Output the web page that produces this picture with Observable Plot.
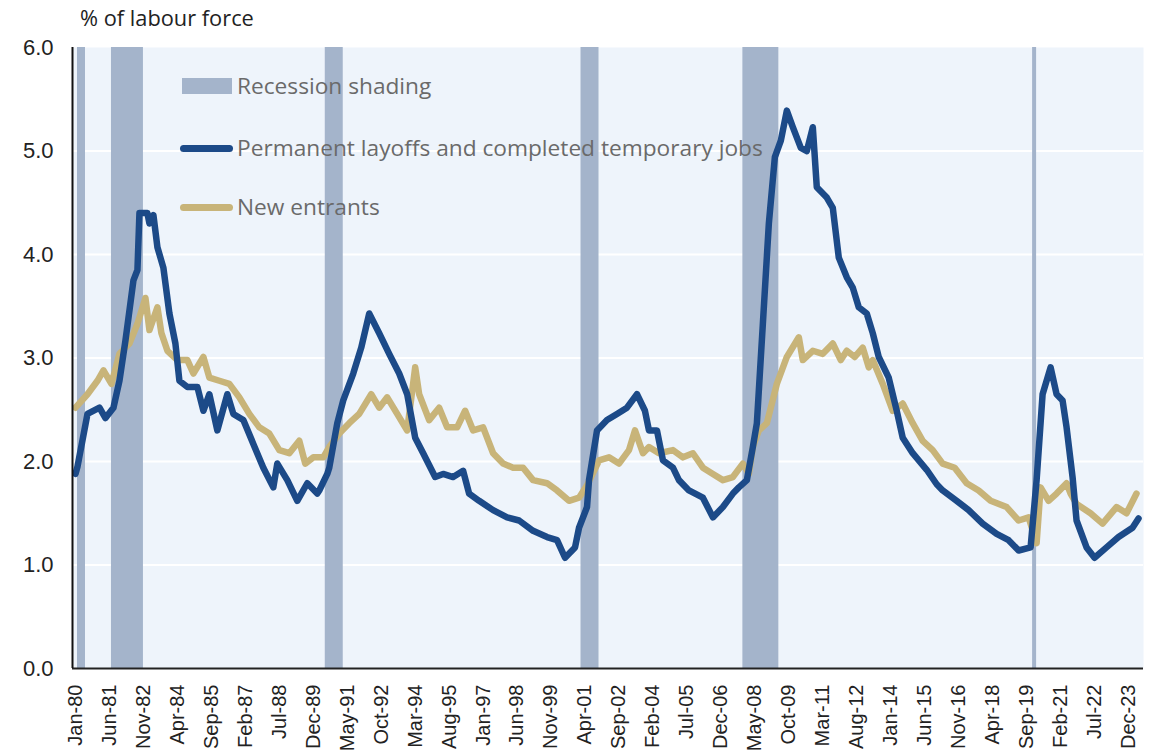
<!DOCTYPE html>
<html>
<head>
<meta charset="utf-8">
<script src="https://cdn.jsdelivr.net/npm/d3@7"></script>
<script src="https://cdn.jsdelivr.net/npm/@observablehq/plot@0.6"></script>
<style>
  html, body { margin: 0; padding: 0; background: #ffffff; }
  #wrap { position: relative; width: 1153px; height: 754px; font-family: "Open Sans", "Noto Sans", sans-serif; }
  #chart svg { display: block; }
  .title { position: absolute; left: 80px; top: 3px; font-size: 21.8px; line-height: 30px; color: #222; }
  .leg { position: absolute; left: 180px; display: flex; align-items: center; color: #6a6a6a; font-size: 22.7px; line-height: 30px; white-space: nowrap; }
  .sw { display: inline-block; margin-right: 4px; }
</style>
</head>
<body>
<div id="wrap">
  <div id="chart"></div>
  <div class="title">% of labour force</div>
  <div class="leg" style="top:71px;"><span class="sw" style="width:50px;height:16px;background:#a4b4cb;margin-left:2px;margin-right:5px;"></span>Recession shading</div>
  <div class="leg" style="top:133px;"><span class="sw" style="width:53px;height:7px;border-radius:4px;background:#1c4a88;"></span>Permanent layoffs and completed temporary jobs</div>
  <div class="leg" style="top:192px;"><span class="sw" style="width:53px;height:7px;border-radius:4px;background:#c8b479;"></span>New entrants</div>
</div>
<script>
// ---------- DATA ----------
const tickLabels = ["Jan-80","Jun-81","Nov-82","Apr-84","Sep-85","Feb-87","Jul-88","Dec-89","May-91","Oct-92","Mar-94","Aug-95","Jan-97","Jun-98","Nov-99","Apr-01","Sep-02","Feb-04","Jul-05","Dec-06","May-08","Oct-09","Mar-11","Aug-12","Jan-14","Jun-15","Nov-16","Apr-18","Sep-19","Feb-21","Jul-22","Dec-23"];

const recessionStart = ["1980-02","1981-07","1990-06","2001-02","2007-11","2019-12"];
const recessionEnd   = ["1980-06","1982-11","1991-03","2001-11","2009-05","2020-02"];

const permDates = ["1980-01","1980-02","1980-07","1981-01","1981-04","1981-08","1981-11","1982-02","1982-06","1982-08","1982-09","1983-01","1983-02","1983-04","1983-06","1983-09","1983-12","1984-03","1984-05","1984-09","1985-02","1985-05","1985-08","1985-12","1986-05","1986-08","1987-01","1987-06","1987-11","1988-04","1988-06","1988-11","1989-04","1989-09","1990-02","1990-03","1990-07","1990-08","1990-12","1991-03","1991-08","1991-12","1992-04","1992-09","1993-02","1993-07","1993-11","1994-03","1994-07","1995-01","1995-05","1995-10","1996-03","1996-06","1996-11","1997-06","1998-01","1998-07","1999-02","1999-09","2000-02","2000-06","2000-11","2001-01","2001-05","2001-06","2001-10","2002-03","2002-08","2003-01","2003-06","2003-10","2003-12","2004-04","2004-07","2004-12","2005-03","2005-08","2006-03","2006-08","2007-01","2007-06","2007-09","2008-01","2008-04","2008-06","2008-09","2008-12","2009-03","2009-06","2009-09","2009-12","2010-04","2010-07","2010-10","2010-12","2011-05","2011-08","2011-11","2012-03","2012-06","2012-09","2013-01","2013-04","2013-07","2013-12","2014-04","2014-07","2014-12","2015-07","2015-12","2016-03","2016-10","2017-04","2017-11","2018-06","2018-12","2019-05","2019-11","2020-02","2020-05","2020-09","2020-12","2021-03","2021-05","2021-08","2021-10","2022-03","2022-07","2023-01","2023-07","2024-02","2024-05"];
const permValues = [1.88,1.95,2.46,2.52,2.42,2.52,2.78,3.17,3.75,3.85,4.40,4.40,4.30,4.38,4.07,3.87,3.43,3.14,2.78,2.72,2.72,2.49,2.65,2.30,2.65,2.46,2.40,2.17,1.94,1.75,1.98,1.82,1.62,1.79,1.69,1.72,1.88,1.94,2.37,2.59,2.85,3.10,3.43,3.24,3.04,2.85,2.65,2.23,2.08,1.85,1.88,1.85,1.91,1.69,1.62,1.53,1.46,1.43,1.33,1.27,1.24,1.07,1.17,1.36,1.56,1.82,2.30,2.40,2.46,2.52,2.65,2.49,2.30,2.30,2.01,1.94,1.82,1.72,1.65,1.46,1.56,1.69,1.75,1.82,2.14,2.37,3.33,4.30,4.94,5.10,5.39,5.23,5.03,5.00,5.23,4.65,4.55,4.45,3.97,3.78,3.68,3.49,3.43,3.24,3.01,2.81,2.49,2.23,2.08,1.92,1.78,1.72,1.62,1.53,1.40,1.30,1.24,1.14,1.17,1.82,2.65,2.91,2.65,2.59,2.33,1.85,1.43,1.17,1.07,1.17,1.27,1.36,1.45];

const entrantDates = ["1980-01","1980-07","1980-12","1981-03","1981-07","1981-11","1982-04","1982-08","1982-12","1983-02","1983-06","1983-08","1983-11","1984-04","1984-09","1984-12","1985-05","1985-08","1986-01","1986-06","1986-11","1987-04","1987-09","1988-02","1988-07","1988-12","1989-05","1989-08","1989-12","1990-05","1990-08","1991-01","1991-06","1991-11","1992-05","1992-09","1993-01","1993-06","1993-11","1994-03","1994-05","1994-10","1995-03","1995-07","1995-12","1996-04","1996-08","1997-01","1997-06","1997-11","1998-04","1998-09","1999-02","1999-09","2000-02","2000-08","2001-01","2001-05","2001-11","2002-04","2002-09","2003-02","2003-05","2003-09","2003-12","2004-05","2004-12","2005-05","2005-10","2006-03","2006-08","2007-01","2007-06","2007-11","2008-02","2008-04","2008-07","2008-11","2009-04","2009-09","2010-03","2010-05","2010-10","2011-03","2011-08","2011-12","2012-03","2012-07","2012-11","2013-02","2013-04","2013-09","2014-02","2014-07","2014-12","2015-05","2015-10","2016-03","2016-09","2017-03","2017-09","2018-03","2018-11","2019-05","2019-10","2020-02","2020-04","2020-08","2020-12","2021-05","2021-07","2021-10","2022-05","2022-11","2023-06","2023-11","2024-04"];
const entrantValues = [2.52,2.65,2.78,2.88,2.75,3.04,3.14,3.33,3.58,3.27,3.49,3.24,3.07,2.98,2.98,2.85,3.01,2.81,2.78,2.75,2.62,2.46,2.33,2.27,2.11,2.08,2.20,1.98,2.04,2.04,2.14,2.27,2.37,2.46,2.65,2.52,2.62,2.46,2.30,2.91,2.65,2.40,2.52,2.33,2.33,2.49,2.30,2.33,2.08,1.98,1.94,1.94,1.82,1.79,1.72,1.62,1.65,1.77,2.01,2.04,1.98,2.11,2.30,2.08,2.14,2.08,2.11,2.04,2.08,1.94,1.88,1.82,1.85,1.98,1.88,2.14,2.30,2.37,2.75,3.01,3.20,2.98,3.07,3.04,3.14,2.98,3.07,3.01,3.10,2.91,2.98,2.75,2.49,2.56,2.37,2.20,2.11,1.98,1.94,1.79,1.72,1.62,1.56,1.43,1.46,1.21,1.75,1.62,1.69,1.79,1.69,1.59,1.50,1.40,1.56,1.50,1.69];

// ---------- HELPERS ----------
const monthNames = ["Jan","Feb","Mar","Apr","May","Jun","Jul","Aug","Sep","Oct","Nov","Dec"];
const idxFromISO = s => { const [y, m] = s.split("-").map(Number); return (y - 1980) * 12 + (m - 1); };
const idxFromLabel = s => { const [mn, yy] = s.split("-"); const y = +yy >= 50 ? 1900 + +yy : 2000 + +yy; return (y - 1980) * 12 + monthNames.indexOf(mn); };

const perm = permDates.map((d, i) => ({m: idxFromISO(d), v: permValues[i]}));
const entrants = entrantDates.map((d, i) => ({m: idxFromISO(d), v: entrantValues[i]}));
const recessions = recessionStart.map((s, i) => ({x1: idxFromISO(s), x2: idxFromISO(recessionEnd[i])}));
const tickIdx = tickLabels.map(idxFromLabel);
const tickMap = new Map(tickIdx.map((t, i) => [t, tickLabels[i]]));
const xDomain = [-1.5, 534.5];

const chart = Plot.plot({
  width: 1153,
  height: 754,
  marginTop: 47,
  marginBottom: 86,
  marginLeft: 72,
  marginRight: 10,
  style: {fontFamily: "'Liberation Sans', Arial, sans-serif", background: "transparent"},
  x: {type: "linear", domain: xDomain},
  y: {domain: [0, 6]},
  marks: [
    Plot.frame({fill: "#eef4fb", stroke: null}),
    Plot.gridY([1, 2, 3, 4, 5], {stroke: "#ffffff", strokeOpacity: 1, strokeWidth: 2}),
    Plot.rect(recessions, {x1: "x1", x2: "x2", fill: "#a4b4cb"}),
    Plot.line(entrants, {x: "m", y: "v", stroke: "#c8b479", strokeWidth: 6.5, strokeLinejoin: "round", strokeLinecap: "round"}),
    Plot.line(perm, {x: "m", y: "v", stroke: "#1c4a88", strokeWidth: 6.5, strokeLinejoin: "round", strokeLinecap: "round"}),
    Plot.ruleY([0], {stroke: "#222", strokeWidth: 2}),
    Plot.ruleX([xDomain[0]], {stroke: "#111", strokeWidth: 2}),
    Plot.axisY({ticks: [0, 1, 2, 3, 4, 5, 6], tickFormat: d3.format(".1f"), tickSize: 0, tickPadding: 19, fontSize: 22, fill: "#222", label: null}),
    Plot.axisX({ticks: tickIdx, tickFormat: d => tickMap.get(d), tickSize: 0, tickPadding: 16, tickRotate: -90, fontSize: 20, fill: "#222", label: null})
  ]
});
document.getElementById("chart").appendChild(chart);
</script>
</body>
</html>
